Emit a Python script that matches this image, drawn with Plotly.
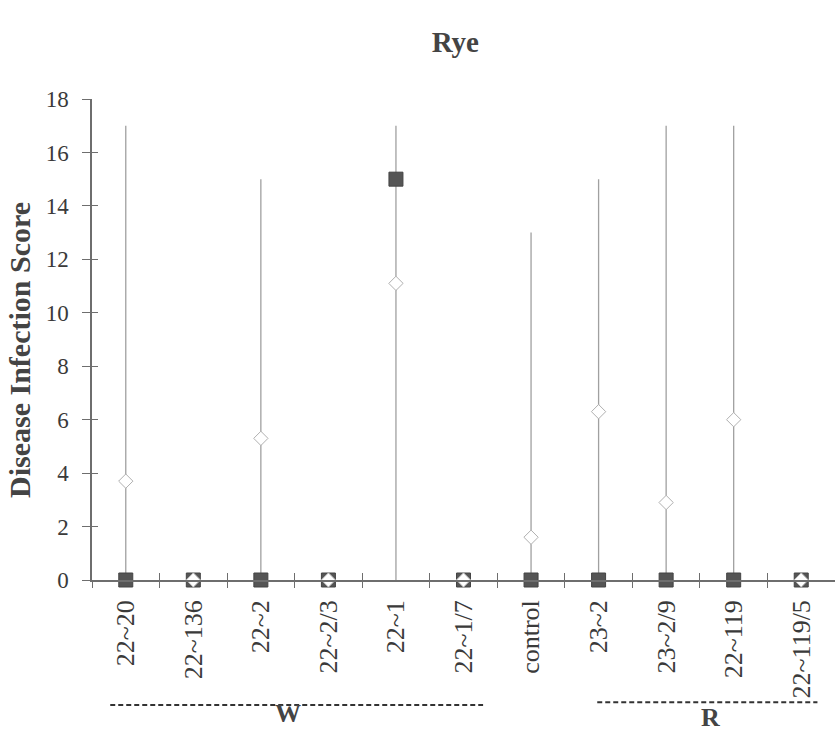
import plotly.graph_objects as go

# ---- data ----
categories = ["22~20", "22~136", "22~2", "22~2/3", "22~1", "22~1/7",
              "control", "23~2", "23~2/9", "22~119", "22~119/5"]
line_max = [17, 0, 15, 0, 17, 0, 13, 15, 17, 17, 0]
squares = [0, 0, 0, 0, 15, 0, 0, 0, 0, 0, 0]
diamonds = [3.7, 0, 5.3, 0, 11.1, 0, 1.6, 6.3, 2.9, 6.0, 0]
y_ticks = [0, 2, 4, 6, 8, 10, 12, 14, 16, 18]
# group name, line start, line end, label position (category units)
groups = [("W", -0.23, 5.29, 2.4), ("R", 6.98, 10.24, 8.65)]

xs = list(range(len(categories)))
bounds = [i - 0.5 for i in range(len(categories) + 1)]

FONT = "Liberation Serif"
TXT = "#3a3a3a"
AX = "#6e6e6e"

fig = go.Figure()

# vertical high lines
lx, ly = [], []
for x, m in zip(xs, line_max):
    if m > 0:
        lx += [x, x, None]
        ly += [0, m, None]
fig.add_trace(go.Scatter(x=lx, y=ly, mode="lines",
                         line=dict(color="#a0a0a0", width=1.3),
                         hoverinfo="skip", showlegend=False))

fig.add_trace(go.Scatter(x=xs, y=squares, mode="markers",
                         marker=dict(symbol="square", size=14, color="#555555",
                                     line=dict(color="#444444", width=1)),
                         showlegend=False, cliponaxis=False))
fig.add_trace(go.Scatter(x=xs, y=diamonds, mode="markers",
                         marker=dict(symbol="diamond", size=11, color="white",
                                     line=dict(color="#b0b0b0", width=1)),
                         showlegend=False, cliponaxis=False))
# invisible traces to activate overlay axes (crossing ticks)
fig.add_trace(go.Scatter(x=xs, y=diamonds, mode="markers", xaxis="x2", yaxis="y2",
                         marker=dict(opacity=0), hoverinfo="skip", showlegend=False))
fig.add_trace(go.Scatter(x=xs, y=diamonds, mode="markers", xaxis="x3", yaxis="y2",
                         marker=dict(opacity=0), hoverinfo="skip", showlegend=False))

xr = [-0.5, len(categories) - 0.5]
yr = [0, 18]

fig.update_layout(
    width=835, height=732,
    margin=dict(l=92, r=0, t=99, b=152),
    paper_bgcolor="white", plot_bgcolor="white",
    font=dict(family=FONT, color=TXT),
    title=dict(text="<b>Rye</b>", x=0.489, xref="paper", xanchor="center",
               y=1 - 42 / 732, yref="container", yanchor="middle",
               font=dict(size=29, family=FONT, color="#444444")),
    xaxis=dict(range=xr, tickmode="array", tickvals=xs, ticktext=categories,
               tickangle=-90, ticks="", showline=True, linecolor=AX, linewidth=1.5,
               showgrid=False, zeroline=False, tickfont=dict(size=26, family=FONT, color=TXT),
               ticklabelstandoff=8),
    xaxis2=dict(range=xr, overlaying="x", anchor="y", side="bottom", tickmode="array",
                tickvals=bounds, ticks="outside", ticklen=7, tickwidth=1.2, tickcolor=AX,
                showticklabels=False, showline=False, showgrid=False, zeroline=False),
    xaxis3=dict(range=xr, overlaying="x", anchor="y", side="bottom", tickmode="array",
                tickvals=bounds, ticks="inside", ticklen=7, tickwidth=1.2, tickcolor=AX,
                showticklabels=False, showline=False, showgrid=False, zeroline=False),
    yaxis=dict(range=yr, tickmode="array", tickvals=y_ticks, ticks="outside", ticklen=8,
               tickwidth=1.2, tickcolor=AX, showline=True, linecolor=AX, linewidth=1.5,
               showgrid=False, zeroline=False, tickfont=dict(size=23, family=FONT, color=TXT),
               ticklabelstandoff=9),
    yaxis2=dict(range=yr, overlaying="y", anchor="x", side="left", tickmode="array",
                tickvals=y_ticks, ticks="inside", ticklen=6, tickwidth=1.2, tickcolor=AX,
                showticklabels=False, showline=False, showgrid=False, zeroline=False),
)

# y-axis title
fig.add_annotation(text="<b>Disease Infection Score</b>", textangle=-90,
                   xref="paper", yref="paper", x=(19 - 92) / 743, y=(580 - 350) / 481,
                   xanchor="center", yanchor="middle", showarrow=False,
                   font=dict(size=30, family=FONT, color="#444444"))

# group brackets
for name, x0, x1, xl in groups:
    yline = -0.26 if name == "W" else -0.254
    ylab = yline - (0.017 if name == "W" else 0.031)
    fig.add_shape(type="line", xref="x", yref="paper", x0=x0, x1=x1, y0=yline, y1=yline,
                  line=dict(color="#333333", width=2, dash="5px,3px"))
    fig.add_annotation(text=f"<b>{name}</b>", xref="x", yref="paper",
                       x=xl, y=ylab, xanchor="center", yanchor="middle", showarrow=False,
                       font=dict(size=26, family=FONT, color="#444444"))

fig.write_html("out.html")
